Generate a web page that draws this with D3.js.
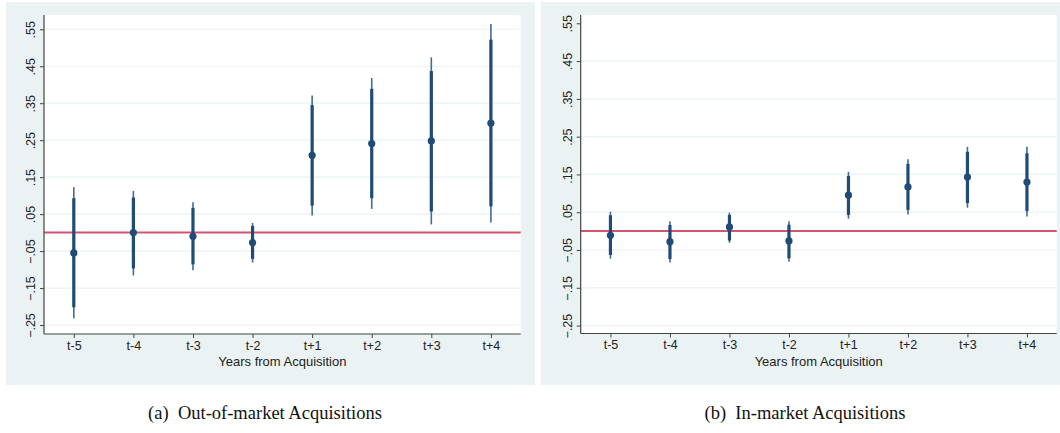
<!DOCTYPE html>
<html>
<head>
<meta charset="utf-8">
<script src="https://cdn.jsdelivr.net/npm/d3@7"></script>
<style>
  body { margin: 0; background: #fff; }
  svg { display: block; }
</style>
</head>
<body>
<svg width="1060" height="433"></svg>
<script>
'use strict'

// categories and tick labels
let years = ['t-5', 't-4', 't-3', 't-2', 't+1', 't+2', 't+3', 't+4'];
let yTicks = [-0.25, -0.15, -0.05, 0.05, 0.15, 0.25, 0.35, 0.45, 0.55];

// (a) out-of-market
let outEst = [-0.055, 0.0, -0.01, -0.027, 0.209, 0.241, 0.248, 0.296];
let outLo90 = [-0.202, -0.097, -0.086, -0.071, 0.073, 0.093, 0.057, 0.071];
let outHi90 = [0.093, 0.095, 0.067, 0.018, 0.345, 0.389, 0.437, 0.522];
let outLo95 = [-0.232, -0.116, -0.102, -0.081, 0.046, 0.064, 0.022, 0.027];
let outHi95 = [0.123, 0.113, 0.082, 0.026, 0.371, 0.418, 0.474, 0.564];

// (b) in-market
let inEst = [-0.011, -0.028, 0.011, -0.026, 0.095, 0.117, 0.143, 0.130];
let inLo90 = [-0.063, -0.074, -0.025, -0.072, 0.043, 0.056, 0.074, 0.053];
let inHi90 = [0.042, 0.016, 0.043, 0.017, 0.146, 0.178, 0.21, 0.206];
let inLo95 = [-0.073, -0.083, -0.031, -0.081, 0.033, 0.044, 0.062, 0.039];
let inHi95 = [0.051, 0.026, 0.049, 0.026, 0.157, 0.190, 0.223, 0.223];

let svg = d3.select('svg');

let navy = '#1f4b76';

function fmt(v) {
    let s = d3.format('.2f')(v);
    return s.replace('0.', '.');
}

function panel(opts) {
    let g = svg.append('g');

    g.append('rect')
        .attr('x', opts.bg[0]).attr('y', 2)
        .attr('width', opts.bg[1] - opts.bg[0]).attr('height', 383)
        .attr('fill', '#eaf2f3');

    let x = d3.scalePoint()
        .domain(years)
        .range([opts.x0, opts.x1])
        .padding(0.5);

    let y = d3.scaleLinear()
        .domain(opts.domain)
        .range([opts.y1, 15]);

    g.append('rect')
        .attr('x', opts.x0).attr('y', 15)
        .attr('width', opts.x1 - opts.x0).attr('height', opts.y1 - 15)
        .attr('fill', '#fff');

    // grid
    g.append('g')
        .selectAll('line')
        .data(opts.grid)
        .enter().append('line')
        .attr('x1', opts.x0).attr('x2', opts.x1)
        .attr('y1', function(d) { return y(d); })
        .attr('y2', function(d) { return y(d); })
        .attr('stroke', '#eaf2f3')
        .attr('stroke-width', 1.2);

    // zero line
    g.append('line')
        .attr('x1', opts.x0).attr('x2', opts.x1)
        .attr('y1', y(0)).attr('y2', y(0))
        .attr('stroke', '#d0566f')
        .attr('stroke-width', 2);

    let idx = d3.range(years.length);

    g.append('g')
        .selectAll('line')
        .data(idx)
        .enter().append('line')
        .attr('x1', function(i) { return x(years[i]); })
        .attr('x2', function(i) { return x(years[i]); })
        .attr('y1', function(i) { return y(opts.lo95[i]); })
        .attr('y2', function(i) { return y(opts.hi95[i]); })
        .attr('stroke', '#3f6d98')
        .attr('stroke-width', 1.6);

    g.append('g')
        .selectAll('line')
        .data(idx)
        .enter().append('line')
        .attr('x1', function(i) { return x(years[i]); })
        .attr('x2', function(i) { return x(years[i]); })
        .attr('y1', function(i) { return y(opts.lo90[i]); })
        .attr('y2', function(i) { return y(opts.hi90[i]); })
        .attr('stroke', navy)
        .attr('stroke-width', 3.2);

    g.append('g')
        .selectAll('circle')
        .data(idx)
        .enter().append('circle')
        .attr('cx', function(i) { return x(years[i]); })
        .attr('cy', function(i) { return y(opts.est[i]); })
        .attr('r', 3.6)
        .attr('fill', navy);

    // axes
    let yAxis = g.append('g')
        .attr('transform', 'translate(' + opts.x0 + ',0)')
        .call(d3.axisLeft(y).tickValues(yTicks).tickSize(4).tickSizeOuter(0).tickFormat(fmt));

    yAxis.selectAll('text')
        .attr('transform', 'rotate(-90)')
        .attr('x', 0)
        .attr('y', -9)
        .attr('dy', null)
        .attr('text-anchor', 'middle');

    let xAxis = g.append('g')
        .attr('transform', 'translate(0,' + opts.y1 + ')')
        .call(d3.axisBottom(x).tickSize(4).tickSizeOuter(0));

    xAxis.selectAll('text').attr('dy', '0.71em').attr('y', 7);

    [yAxis, xAxis].forEach(function(a) {
        a.select('.domain').attr('stroke', '#444').attr('stroke-width', 1.2);
        a.selectAll('.tick line').attr('stroke', '#444');
        a.selectAll('text')
            .attr('fill', '#222')
            .style('font-family', 'Liberation Sans, Arial, sans-serif')
            .style('font-size', '12.5px');
    });
    yAxis.select('.domain').attr('d', 'M0,' + opts.y1 + 'V15');
    xAxis.select('.domain').attr('d', 'M' + opts.x0 + ',0H' + opts.x1);

    g.append('text')
        .attr('x', (opts.x0 + opts.x1) / 2)
        .attr('y', 366)
        .attr('text-anchor', 'middle')
        .attr('fill', '#222')
        .style('font-family', 'Liberation Sans, Arial, sans-serif')
        .style('font-size', '13px')
        .text('Years from Acquisition');

    svg.append('text')
        .attr('x', opts.capX)
        .attr('y', 419)
        .attr('text-anchor', 'middle')
        .attr('fill', '#111')
        .style('font-family', 'Liberation Serif, Times New Roman, serif')
        .style('font-size', '18.5px')
        .style('white-space', 'pre')
        .text(opts.caption);
}

panel({
    bg: [6, 535], x0: 44, x1: 520.7, y1: 334,
    domain: [-0.2743, 0.5886],
    grid: yTicks,
    est: outEst, lo90: outLo90, hi90: outHi90, lo95: outLo95, hi95: outHi95,
    capX: 265, caption: '(a)  Out-of-market Acquisitions'
});

panel({
    bg: [541, 1062], x0: 580.7, x1: 1056.7, y1: 333.5,
    domain: [-0.271, 0.572],
    grid: yTicks.slice(0, 8),
    est: inEst, lo90: inLo90, hi90: inHi90, lo95: inLo95, hi95: inHi95,
    capX: 805, caption: '(b)  In-market Acquisitions'
});
</script>
</body>
</html>
